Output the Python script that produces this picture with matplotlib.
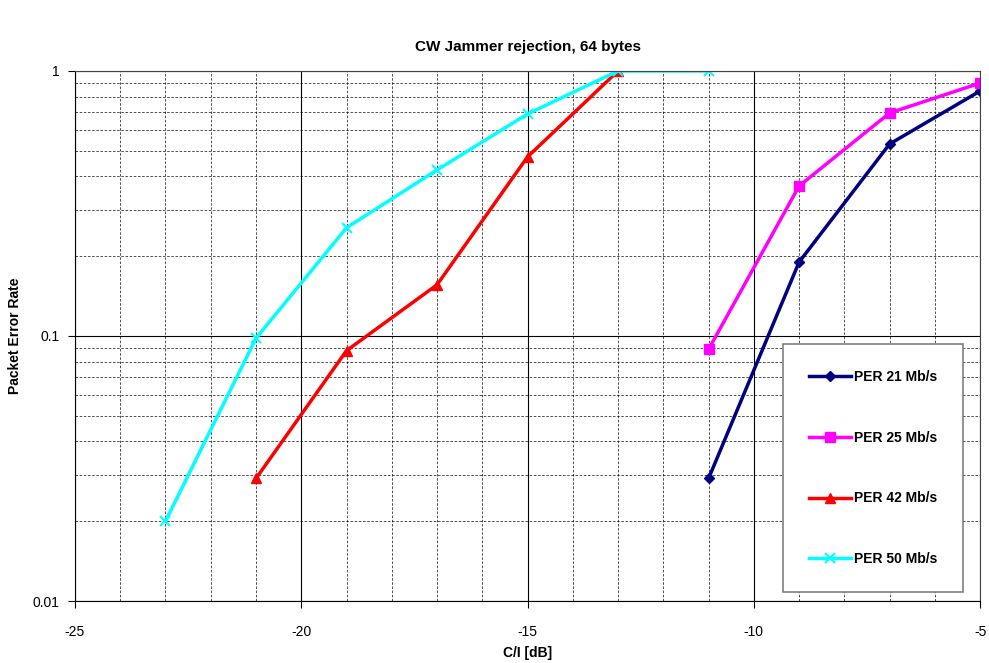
import numpy as np
import matplotlib.pyplot as plt
from matplotlib.ticker import FixedLocator, FuncFormatter, LogLocator, NullFormatter

plt.rcParams['font.family'] = ['Liberation Sans', 'DejaVu Sans']
plt.rcParams['axes.unicode_minus'] = False

x21 = [-11, -9, -7, -5]
per21 = [0.029, 0.19, 0.53, 0.84]
x25 = [-11, -9, -7, -5]
per25 = [0.089, 0.368, 0.694, 0.90]
x42 = [-21, -19, -17, -15, -13]
per42 = [0.029, 0.088, 0.156, 0.474, 1.0]
x50 = [-23, -21, -19, -17, -15, -13, -11]
per50 = [0.02, 0.098, 0.256, 0.423, 0.688, 1.0, 1.0]

fig = plt.figure(figsize=(9.89, 6.63), dpi=100)
ax = fig.add_axes([0.0758, 0.0935, 0.9152, 0.7995])

ax.set_yscale('log')
ax.set_xlim(-25, -5)
ax.set_ylim(0.01, 1)

# grid like excel: solid major, dashed minor
ax.set_xticks([-25, -20, -15, -10, -5])
ax.xaxis.set_minor_locator(FixedLocator(np.arange(-25, -4, 1)))
ax.yaxis.set_major_locator(FixedLocator([0.01, 0.1, 1]))
ax.yaxis.set_minor_locator(LogLocator(base=10, subs=np.arange(2, 10)))
ax.yaxis.set_minor_formatter(NullFormatter())
ax.yaxis.set_major_formatter(FuncFormatter(lambda v, p: {0.01: '0.01', 0.1: '0.1', 1: '1'}.get(round(v, 3), '')))
ax.grid(which='major', color='black', linestyle='-', linewidth=0.8)
ax.grid(which='minor', color='black', linestyle=(0, (3, 2)), linewidth=0.6, alpha=0.8)
ax.set_axisbelow(True)

ax.tick_params(which='major', direction='out', length=5, labelsize=10)
ax.tick_params(axis='x', pad=12)
ax.tick_params(axis='y', pad=6)
ax.tick_params(which='minor', length=0)
for s in ax.spines.values():
    s.set_color('#444444')
ax.spines['left'].set_color('black')
ax.spines['bottom'].set_color('black')

ax.plot(x21, per21, color='#000080', marker='D', markersize=5, linewidth=2.5, label='PER 21 Mb/s')
ax.plot(x25, per25, color='#ff00ff', marker='s', markersize=7, linewidth=2.5, label='PER 25 Mb/s')
ax.plot(x42, per42, color='#ff0000', marker='^', markersize=7, linewidth=2.5, label='PER 42 Mb/s')
ax.plot(x50, per50, color='#00ffff', marker='x', markersize=7, markeredgewidth=1.5, linewidth=2.5, label='PER 50 Mb/s')

ax.set_title('CW Jammer rejection, 64 bytes', fontsize=11, fontweight='bold', pad=14)
ax.set_xlabel('C/I [dB]', fontsize=10, fontweight='bold', labelpad=5)
ax.set_ylabel('Packet Error Rate', fontsize=10, fontweight='bold', labelpad=8)

leg = ax.legend(loc='upper left', bbox_to_anchor=(0.782, 0.485), prop={'size': 10, 'weight': 'bold'},
                labelspacing=3.35, handlelength=3.0, handletextpad=0.2, borderpad=1.9,
                fancybox=False, framealpha=1, borderaxespad=0)
leg.get_frame().set_edgecolor('#808080')
leg.get_frame().set_linewidth(1.2)

fig.savefig('out.png', dpi=100)
